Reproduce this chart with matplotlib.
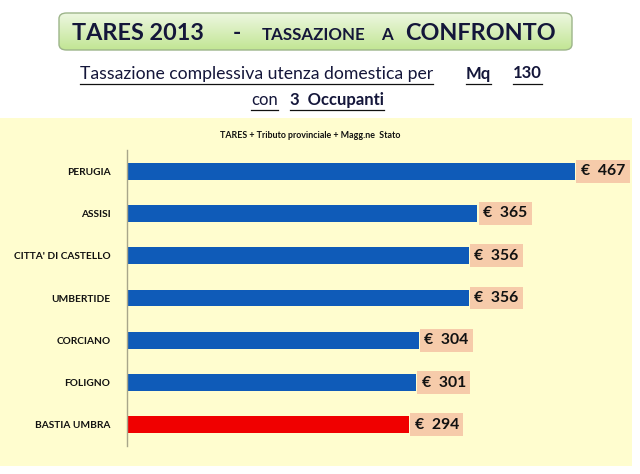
import matplotlib
matplotlib.use("Agg")
import matplotlib.pyplot as plt
import numpy as np
from matplotlib.patches import FancyBboxPatch, Rectangle

cities = ["PERUGIA", "ASSISI", "CITTA' DI CASTELLO", "UMBERTIDE", "CORCIANO", "FOLIGNO", "BASTIA UMBRA"]
values = [467, 365, 356, 356, 304, 301, 294]
bar_colors = ["#0F5BB8"] * 6 + ["#F00000"]
value_labels = ["€  %d" % v for v in values]

W, H = 640, 474
fig = plt.figure(figsize=(W / 100, H / 100), dpi=100)
fig.patch.set_facecolor("white")

def fx(px):
    return px / W

def fy(py):
    return 1 - py / H

FONT = "Lato"
NAVY = "#14163A"

# pale yellow panel
fig.patches.append(Rectangle((fx(0), fy(466)), fx(632), (466 - 118) / H,
                             transform=fig.transFigure, facecolor="#FFFDCF",
                             edgecolor="none", zorder=0))

# title box with gradient
bx0, bx1, by0, by1 = 59, 572, 13, 50
box = FancyBboxPatch((fx(bx0), fy(by1)), fx(bx1 - bx0), (by1 - by0) / H,
                     boxstyle="round,pad=0,rounding_size=0.012",
                     transform=fig.transFigure, facecolor="none",
                     edgecolor="#9DB58A", linewidth=1.0, zorder=3)
fig.patches.append(box)
gax = fig.add_axes([fx(bx0), fy(by1), fx(bx1 - bx0), (by1 - by0) / H], zorder=1)
gax.axis("off")
grad = np.linspace(0, 1, 64).reshape(-1, 1)
top = np.array([0.93, 0.97, 0.88])
bot = np.array([0.76, 0.90, 0.58])
img = top[None, None, :] * (1 - grad[:, :, None]) + bot[None, None, :] * grad[:, :, None]
im = gax.imshow(img, aspect="auto", extent=[0, 1, 0, 1])
im.set_clip_path(box)

fig.canvas.draw()
renderer = fig.canvas.get_renderer()

def put(x, ybase, s, size, weight="normal", underline=False, color=NAVY, uy=None):
    t = fig.text(fx(x), fy(ybase), s, fontsize=size, fontweight=weight,
                 family=FONT, color=color, ha="left", va="baseline", zorder=5)
    if underline:
        bb = t.get_window_extent(renderer=renderer)
        y = fy(uy) if uy is not None else fy(ybase + 4)
        fig.add_artist(plt.Line2D([bb.x0 / W, bb.x1 / W], [y, y],
                                  transform=fig.transFigure, color="#111111", lw=0.9))
    return t

# title
put(72, 40, "TARES 2013", 16.8, "bold")
put(233, 40, "-", 16, "bold")
put(262, 40, "TASSAZIONE", 12.2, "bold")
put(381, 40, "A", 12.2, "bold")
put(405, 40, "CONFRONTO", 16.8, "bold")

# subtitle
put(80, 79, "Tassazione complessiva utenza domestica per", 12.7, underline=True, uy=84)
put(466, 79, "Mq", 12, "bold", underline=True, uy=84)
put(513, 78, "130", 12, "bold", underline=True, uy=84)
put(251, 105, "con", 12, underline=True, uy=110)
put(290, 105, "3  Occupanti", 12, "bold", underline=True, uy=110)

# chart
ax = fig.add_axes([fx(127), fy(446), fx(632 - 127), (446 - 150) / H], zorder=2)
ax.patch.set_alpha(0)
ypos = np.arange(len(cities))[::-1]
ax.barh(ypos, values, height=0.40, color=bar_colors, edgecolor="none")
ax.set_xlim(0, (632 - 127) / 0.960)
ax.set_ylim(-0.5, len(cities) - 0.5)
for s in ["top", "right", "bottom"]:
    ax.spines[s].set_visible(False)
ax.spines["left"].set_color("#A8A68A")
ax.spines["left"].set_linewidth(1.0)
ax.set_xticks([])
ax.set_yticks(ypos)
ax.set_yticklabels(cities, fontsize=7.3, fontweight="bold", family=FONT, color="#111111")
ax.tick_params(axis="y", length=0, pad=12)

for y, v, lab in zip(ypos, values, value_labels):
    ax.annotate(lab, (v, y), xytext=(4, 0), textcoords="offset points",
                ha="left", va="center", fontsize=11.3, fontweight="bold",
                family=FONT, color="#111111",
                bbox=dict(boxstyle="square,pad=0.28", facecolor="#F6CBAA", edgecolor="none"))

fig.text(fx(310), fy(135), "TARES + Tributo provinciale + Magg.ne  Stato", fontsize=6.4,
         fontweight="bold", family=FONT, color="#111111", ha="center", va="center")

fig.savefig("out.png", dpi=100)
